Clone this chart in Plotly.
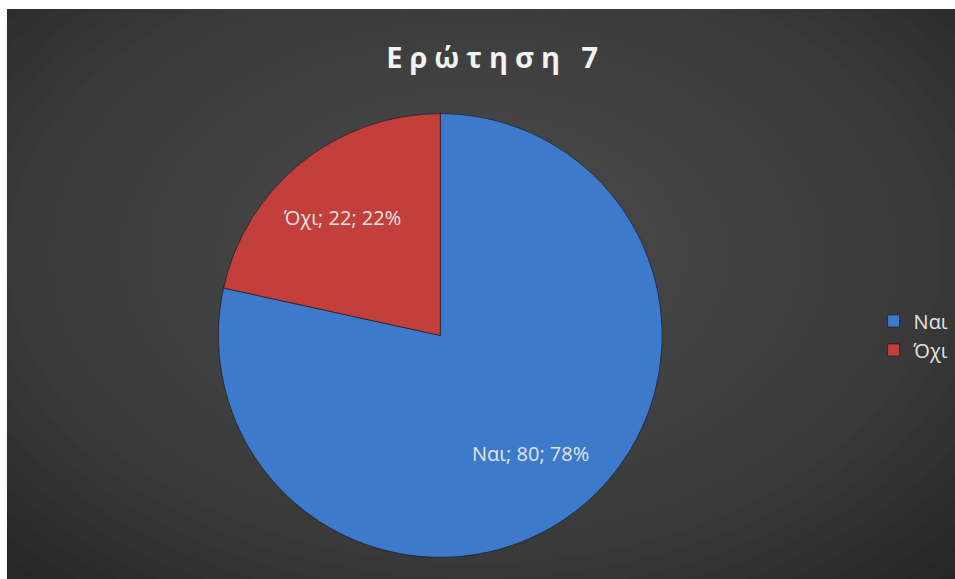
import math
import plotly.graph_objects as go

categories = ["Ναι", "Όχι"]
values = [80, 22]
colors = ["#3d7acb", "#c23f3c"]
title_text = "Ερώτηση 7"

W, H = 955, 579
fig = go.Figure()

dom_x = [0.2304, 0.6984]
dom_y = [0.0346, 0.8066]

fig.add_trace(go.Pie(
    labels=categories,
    values=values,
    sort=False,
    direction="clockwise",
    rotation=0,
    marker=dict(colors=colors, line=dict(color="rgba(20,20,30,0.6)", width=1)),
    textinfo="none",
    hoverinfo="label+value+percent",
    domain=dict(x=dom_x, y=dom_y),
    showlegend=True,
))

# slice labels placed from the data (mid-angle of each slice)
cxp = (dom_x[0] + dom_x[1]) / 2 - 4 / W
cyp = (dom_y[0] + dom_y[1]) / 2
R_px = min((dom_x[1] - dom_x[0]) * W, (dom_y[1] - dom_y[0]) * H) / 2
total = sum(values)
annotations = []
cum = 0
for lab, v in zip(categories, values):
    mid = (cum + v / 2) / total * 2 * math.pi
    cum += v
    r = 0.68 * R_px
    dx = r * math.sin(mid)
    dy = r * math.cos(mid)
    pct = round(100 * v / total)
    annotations.append(dict(
        x=cxp + dx / W, y=cyp + dy / H, xref="paper", yref="paper",
        text=f"{lab}; {v}; {pct}%", showarrow=False,
        font=dict(family="Open Sans", size=20, color="#e4e4e4"),
        xanchor="center", yanchor="middle"))

# background: dark panel with a soft radial gradient
shapes = []
n = 30
for i in range(n):
    f = 1 - i / n
    rx, ry = 0.74 * f, 0.80 * f
    cx, cy = 0.50, 0.56
    shapes.append(dict(type="circle", xref="paper", yref="paper",
                       x0=cx - rx, x1=cx + rx, y0=cy - ry, y1=cy + ry,
                       fillcolor="rgba(112,112,112,0.035)", line=dict(width=0), layer="below"))
# white page edge at top and left
shapes.append(dict(type="rect", xref="paper", yref="paper", x0=-0.02, x1=1.02, y0=1 - 9 / H, y1=1.02,
                   fillcolor="white", line=dict(width=0), layer="below"))
shapes.append(dict(type="rect", xref="paper", yref="paper", x0=-0.02, x1=7 / W, y0=-0.02, y1=1.02,
                   fillcolor="white", line=dict(width=0), layer="below"))

fig.update_layout(
    width=W, height=H,
    margin=dict(l=0, r=0, t=0, b=0),
    paper_bgcolor="#232323",
    plot_bgcolor="rgba(0,0,0,0)",
    shapes=shapes,
    annotations=annotations,
    title=dict(text="<b><span style='letter-spacing:7px'>" + title_text + "</span></b>",
               x=0.519, xanchor="center", y=0.9, yanchor="middle",
               font=dict(family="Open Sans", size=29, color="#f2f2f2")),
    legend=dict(x=0.9215, y=0.4206, xanchor="left", yanchor="middle",
                font=dict(family="Open Sans", size=20, color="#e4e4e4"),
                bgcolor="rgba(0,0,0,0)", itemwidth=30),
)

fig.write_html("out.html", default_width="955px", default_height="579px",
               config={"displayModeBar": False},
               post_script="document.body.style.margin='0px';")
